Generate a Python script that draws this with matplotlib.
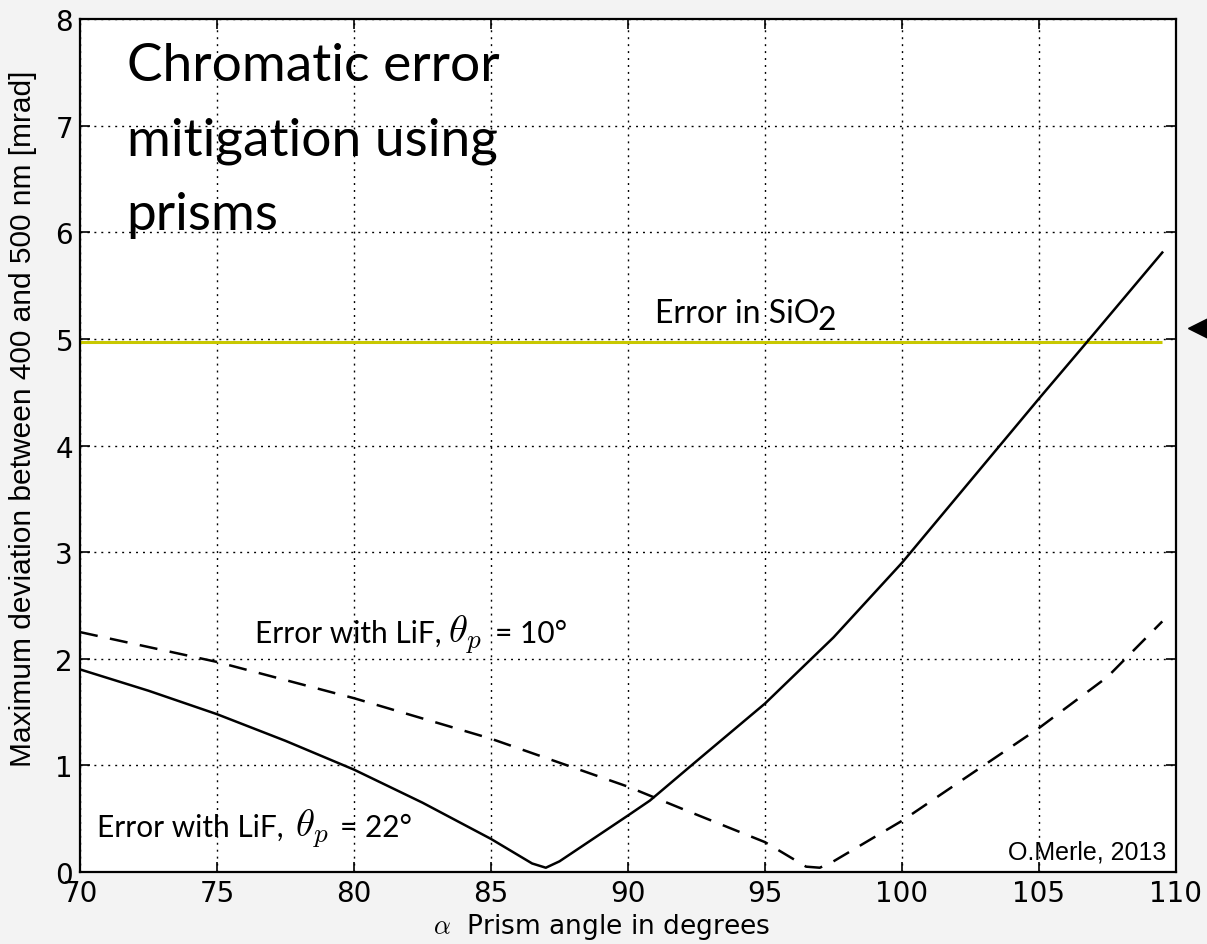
import numpy as np
import matplotlib
matplotlib.use("Agg")
import matplotlib.pyplot as plt

# ---------------------------------------------------------------------
# Data
# ---------------------------------------------------------------------
alpha_22 = [70, 72.5, 75, 77.5, 80, 82.5, 85, 86.5, 87, 87.5, 90, 90.8, 92.5,
            95, 97.5, 100, 102.5, 105, 106.75, 109.5]
err_22 = [1.90, 1.70, 1.48, 1.23, 0.96, 0.65, 0.31, 0.08, 0.04, 0.10, 0.53, 0.67,
          1.04, 1.58, 2.20, 2.90, 3.67, 4.44, 4.97, 5.81]

alpha_10 = [70, 75, 80, 85, 90, 92, 95, 96.5, 97, 97.5, 100, 102.7, 105, 107.5, 109.5]
err_10 = [2.25, 1.97, 1.63, 1.25, 0.80, 0.59, 0.28, 0.05, 0.04, 0.10, 0.48, 0.95,
          1.35, 1.83, 2.35]

alpha_sio2 = [70, 109.5]
err_sio2 = [4.97, 4.97]

x_ticks = [70, 75, 80, 85, 90, 95, 100, 105, 110]
y_ticks = [0, 1, 2, 3, 4, 5, 6, 7, 8]

# ---------------------------------------------------------------------
# Style
# ---------------------------------------------------------------------
plt.rcParams["mathtext.fontset"] = "cm"
plt.rcParams["lines.scale_dashes"] = False
plt.rcParams["xtick.direction"] = "in"
plt.rcParams["ytick.direction"] = "in"
plt.rcParams["xtick.top"] = True
plt.rcParams["ytick.right"] = True

fig = plt.figure(figsize=(12.07, 9.45), dpi=100, facecolor="#f3f3f3")
ax = fig.add_axes([0.0663, 0.0762, 0.908, 0.9026])
ax.set_facecolor("white")

ax.plot(alpha_sio2, err_sio2, color="#c8c800", lw=2.2, solid_capstyle="butt")
ax.plot(alpha_22, err_22, color="black", lw=1.8)
ax.plot(alpha_10, err_10, color="black", lw=1.8, dashes=(13, 9))

# arrow marker sticking out on the right, cut by the figure edge
ax.plot([110.84], [5.10], marker="<", color="black", markersize=16, clip_on=False)

ax.set_xlim(70, 110)
ax.set_ylim(0, 8)
ax.set_xticks(x_ticks)
ax.set_yticks(y_ticks)
ax.tick_params(labelsize=20, length=7, width=1.2, pad=5)
for lab in ax.get_xticklabels() + ax.get_yticklabels():
    lab.set_family("DejaVu Sans")
for sp in ax.spines.values():
    sp.set_linewidth(1.6)
ax.grid(True, color="black", lw=1.0, linestyle=(0, (1.4, 3.6)))

ax.set_xlabel(r"$\alpha$  Prism angle in degrees", fontsize=19, family="DejaVu Sans")
ax.xaxis.set_label_coords(0.476, -0.046)
ax.set_ylabel("Maximum deviation between 400 and 500 nm [mrad]", fontsize=21.5,
              family="Liberation Sans")
ax.yaxis.set_label_coords(-0.039, 0.533)

# ---------------------------------------------------------------------
# Annotations
# ---------------------------------------------------------------------
ax.text(71.7, 6.03, "Chromatic error\nmitigation using\nprisms", fontsize=38.3,
        family="Lato", va="baseline", ha="left", linespacing=1.72)

t_si = ax.text(90.99, 5.16, "Error in SiO", fontsize=23, family="Lato",
               va="baseline", ha="left")
ax.annotate("2", xy=(1, 0), xycoords=t_si, xytext=(-1.5, -5),
            textcoords="offset points", fontsize=23, family="Lato",
            ha="left", va="bottom")

# theta_p = 10 label
ax.text(76.39, 2.16, "Error with LiF,", fontsize=21.5, family="Lato",
        va="baseline", ha="left")
ax.text(83.43, 2.16, r"$\theta_p$", fontsize=28, va="baseline", ha="left")
ax.text(85.15, 2.16, "= 10°", fontsize=21.5, family="Lato",
        va="baseline", ha="left")

# theta_p = 22 label
ax.text(70.62, 0.34, "Error with LiF,", fontsize=21.5, family="Lato",
        va="baseline", ha="left")
ax.text(77.85, 0.34, r"$\theta_p$", fontsize=28, va="baseline", ha="left")
ax.text(79.50, 0.34, "= 22°", fontsize=21.5, family="Lato",
        va="baseline", ha="left")

ax.text(0.991, 0.0164, "O.Merle, 2013", transform=ax.transAxes, fontsize=18,
        family="Liberation Sans", ha="right", va="baseline")

fig.savefig("out.png", dpi=100, facecolor=fig.get_facecolor())
